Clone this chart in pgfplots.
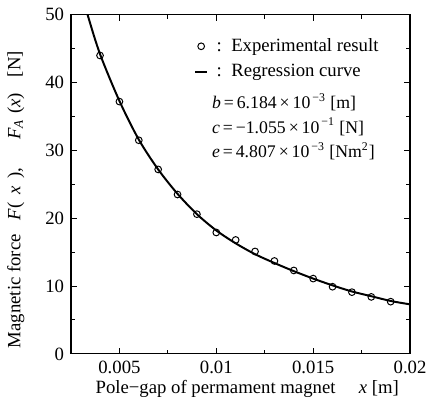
\documentclass[border=0pt]{standalone}
\usepackage{fontspec}
\setmainfont{Liberation Serif}
\usepackage{pgfplots}
\pgfplotsset{compat=1.18}
\usetikzlibrary{calc}

\begin{document}
\begin{tikzpicture}[font=\fontsize{9.5}{11}\selectfont]
\begin{axis}[
  name=ax, scale only axis, width=172pt, height=172pt,
  xmin=0.0025, xmax=0.02, ymin=0, ymax=50,
  scaled x ticks=false,
  xtick={0.005,0.01,0.015,0.02}, xticklabels={0.005,0.01,0.015,0.02},
  minor xtick={0.0075,0.0125,0.0175},
  ytick={0,10,...,50}, minor ytick={5,15,...,45},
  major tick length=3pt, minor tick length=2pt,
  tick style={line width=0.5pt, black},
  axis line style={line width=0.6pt},
  /pgf/number format/assume math mode=true,
  xlabel={Pole−gap of permament magnet\quad\ \textit{x} [m]},
  ylabel={Magnetic force\hspace{7pt}\textit{F}(\hspace{4pt}\textit{x}\hspace{4pt}),\hspace{14pt}\textit{F\textsubscript{A}}\hspace{3pt}(\textit{x})\hspace{8pt}[N]},
  xlabel style={at={(axis description cs:0.52,-0.116)}, anchor=base},
  ylabel style={at={(axis description cs:-0.163,0.455)}, anchor=center},
  legend style={at={(rel axis cs:0.345,0.955)}, anchor=north west, draw=none, fill=none,
    row sep=1pt, font=\fontsize{9.5}{11}\selectfont},
  legend cell align=left,
  clip=true,
]
\addplot[only marks, mark=o, mark size=1.7pt, mark options={line width=0.5pt, fill=white}] coordinates {
  (0.004,44.0) (0.005,37.2) (0.006,31.5) (0.007,27.2) (0.008,23.5)
  (0.009,20.6) (0.010,17.9) (0.011,16.8) (0.012,15.1) (0.013,13.7)
  (0.014,12.3) (0.015,11.1) (0.016,9.9) (0.017,9.1) (0.018,8.4) (0.019,7.7)};
\addlegendentry{\ :\ \ Experimental result}
\addplot[smooth, line width=1pt, black,
  legend image code/.code={\draw[line width=1pt] (0.3cm-3pt,0pt) -- (0.3cm+3pt,0pt);}] coordinates {
  (0.0032,51.6) (0.0034,49.6) (0.004,44.2) (0.005,37.3) (0.006,31.6) (0.007,27.2)
  (0.008,23.6) (0.009,20.6) (0.010,18.2) (0.011,16.3) (0.012,14.7)
  (0.013,13.4) (0.014,12.2) (0.015,11.1) (0.016,10.1) (0.017,9.2)
  (0.018,8.5) (0.019,7.8) (0.020,7.3)};
\addlegendentry{\ :\ \ Regression curve}
\node[anchor=north west, align=left, inner sep=0pt, font=\fontsize{9}{11}\selectfont]
  at (rel axis cs:0.415,0.77) {%
  \textit{b}\,=\,6.184\,×\,10\textsuperscript{\,−3}\ [m]\\[1.5pt]
  \textit{c}\,=\,−1.055\,×\,10\textsuperscript{\,−1}\ [N]\\[1.5pt]
  \textit{e}\,=\,4.807\,×\,10\textsuperscript{\,−3}\ [Nm\textsuperscript{2}]};
\end{axis}
\path ($(ax.south west)+(-36pt,-24.5pt)$) rectangle ($(ax.north east)+(8.5pt,7.5pt)$);
\end{tikzpicture}
\end{document}
